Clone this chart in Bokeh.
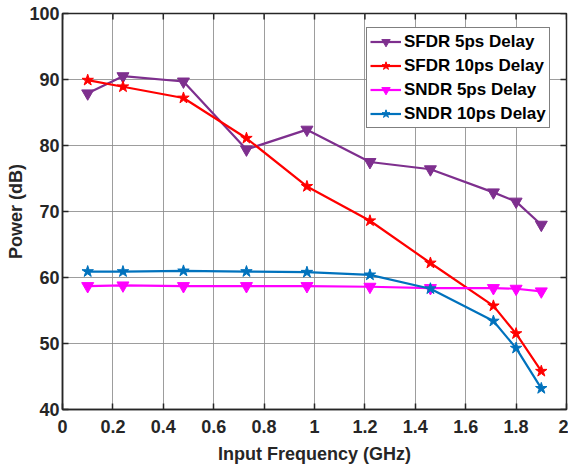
import math
from bokeh.plotting import figure
from bokeh.models import FixedTicker, Legend, LegendItem, Range1d
from bokeh.embed import file_html
from bokeh.resources import INLINE

freq = [0.1, 0.24, 0.48, 0.73, 0.97, 1.22, 1.46, 1.71, 1.80, 1.90]
sfdr_5ps = [87.9, 90.5, 89.7, 79.4, 82.4, 77.5, 76.4, 72.9, 71.5, 68.0]
sfdr_10ps = [89.9, 88.9, 87.2, 81.1, 73.8, 68.6, 62.2, 55.7, 51.5, 45.8]
sndr_5ps = [58.7, 58.8, 58.7, 58.7, 58.7, 58.6, 58.4, 58.4, 58.3, 57.9]
sndr_10ps = [60.9, 60.9, 61.0, 60.9, 60.8, 60.4, 58.3, 53.4, 49.3, 43.2]

x_ticks = [0, 0.2, 0.4, 0.6, 0.8, 1.0, 1.2, 1.4, 1.6, 1.8, 2.0]
y_ticks = [40, 50, 60, 70, 80, 90, 100]
x_lim = (0, 2)
y_lim = (40, 100)

FONT = "Liberation Sans"
DARK = "#262626"

p = figure(width=568, height=468, output_backend="svg", toolbar_location=None,
           x_range=Range1d(*x_lim), y_range=Range1d(*y_lim),
           min_border_left=62, min_border_right=2, min_border_top=13, min_border_bottom=59)
p.outline_line_color = DARK
p.outline_line_width = 1.5
p.background_fill_color = "white"

p.xgrid.ticker = FixedTicker(ticks=x_ticks)
p.ygrid.ticker = FixedTicker(ticks=y_ticks)
p.grid.grid_line_color = "#8c8c8c"
p.grid.grid_line_width = 1
p.grid.grid_line_alpha = 0.85

# inward ticks on top and right edges (box style)
p.scatter(x_ticks, [y_lim[1]] * len(x_ticks), marker="dash", size=12, angle=math.pi / 2,
          line_color=DARK, line_width=1.5)
p.scatter([x_lim[1]] * len(y_ticks), y_ticks, marker="dash", size=12,
          line_color=DARK, line_width=1.5)

series = [
    ("SFDR 5ps Delay", sfdr_5ps, "#7E2F8E", "inverted_triangle"),
    ("SFDR 10ps Delay", sfdr_10ps, "#FF0000", "star"),
    ("SNDR 5ps Delay", sndr_5ps, "#FF00FF", "inverted_triangle"),
    ("SNDR 10ps Delay", sndr_10ps, "#0072BD", "star"),
]
items = []
for label, ys, col, mk in series:
    r1 = p.line(freq, ys, line_color=col, line_width=2.2)
    size = 12 if mk == "inverted_triangle" else 12
    r2 = p.scatter(freq, ys, marker=mk, size=size, fill_color=col, line_color=col)
    items.append(LegendItem(label=label, renderers=[r1, r2]))

for ax in (p.xaxis[0], p.yaxis[0]):
    ax.major_label_text_font = FONT
    ax.major_label_text_font_style = "bold"
    ax.major_label_text_font_size = "18px"
    ax.major_label_text_color = DARK
    ax.axis_label_text_font = FONT
    ax.axis_label_text_font_style = "bold"
    ax.axis_label_text_font_size = "18px"
    ax.axis_label_text_color = DARK
    ax.major_tick_in = 6
    ax.major_tick_out = 0
    ax.minor_tick_in = 0
    ax.minor_tick_out = 0
    ax.axis_line_color = DARK
    ax.axis_line_width = 1.5
    ax.major_tick_line_color = DARK
    ax.major_tick_line_width = 1.5

p.xaxis[0].ticker = FixedTicker(ticks=x_ticks)
p.yaxis[0].ticker = FixedTicker(ticks=y_ticks)
p.xaxis[0].major_label_overrides = {0: "0", 1: "1", 2: "2"}
p.xaxis[0].axis_label = "Input Frequency (GHz)"
p.yaxis[0].axis_label = "Power (dB)"
p.xaxis[0].major_label_standoff = 10
p.yaxis[0].major_label_standoff = 3
p.xaxis[0].axis_label_standoff = 8
p.yaxis[0].axis_label_standoff = 0

legend = Legend(items=items, location=(304, 281))
legend.label_text_font = FONT
legend.label_text_font_style = "bold"
legend.label_text_font_size = "17px"
legend.label_text_color = "black"
legend.border_line_color = "black"
legend.border_line_width = 1
legend.background_fill_color = "white"
legend.background_fill_alpha = 1
legend.glyph_width = 31
legend.glyph_height = 21
legend.label_height = 21
legend.label_standoff = 3
legend.spacing = 3
legend.padding = 3
legend.margin = 0
p.add_layout(legend)

open("out.html", "w").write(file_html(p, INLINE))
